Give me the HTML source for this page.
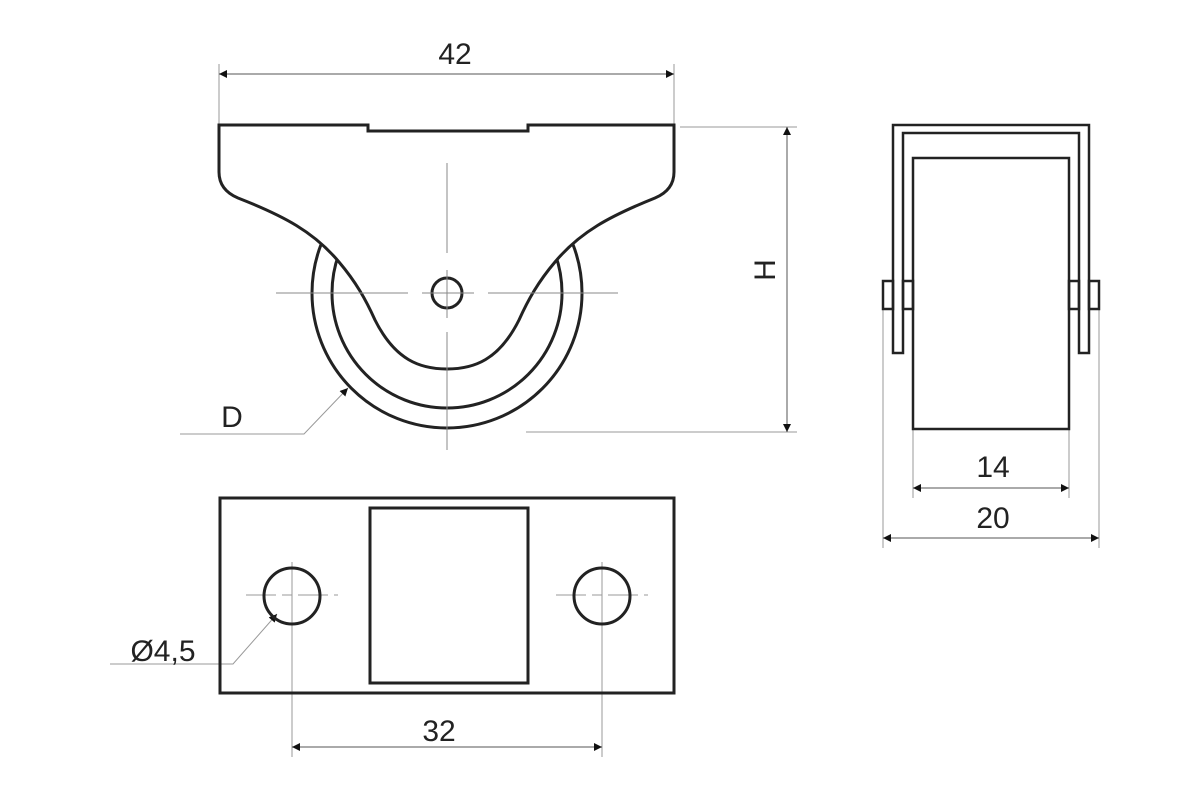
<!DOCTYPE html>
<html><head><meta charset="utf-8"><style>
html,body{margin:0;padding:0;background:#fff;}
svg{display:block;}
text{font-family:"Liberation Sans",sans-serif;fill:#222;}
</style></head><body>
<svg width="1200" height="800" viewBox="0 0 1200 800" xmlns="http://www.w3.org/2000/svg">
<defs>
<marker id="a" viewBox="0 0 10 10" refX="10" refY="5" markerWidth="16" markerHeight="8" markerUnits="userSpaceOnUse" orient="auto-start-reverse"><path d="M0,0 L10,5 L0,10 z" fill="#111"/></marker>
</defs>
<g stroke="#999" stroke-width="1" fill="none">
<line x1="219" y1="64" x2="219" y2="125"/><line x1="674" y1="64" x2="674" y2="125"/>
<line x1="219" y1="74" x2="674" y2="74" stroke="#555" marker-start="url(#a)" marker-end="url(#a)"/>
<line x1="680" y1="127" x2="797" y2="127"/><line x1="526" y1="432" x2="797" y2="432"/>
<line x1="787" y1="127" x2="787" y2="432" stroke="#555" marker-start="url(#a)" marker-end="url(#a)"/>
<polyline points="180,434 304,434 348,388" stroke="#999" marker-end="url(#a)"/>
<line x1="883" y1="309" x2="883" y2="548"/><line x1="1099" y1="309" x2="1099" y2="548"/>
<line x1="913" y1="429" x2="913" y2="498"/><line x1="1069" y1="429" x2="1069" y2="498"/>
<line x1="913" y1="488" x2="1069" y2="488" stroke="#555" marker-start="url(#a)" marker-end="url(#a)"/>
<line x1="883" y1="538" x2="1099" y2="538" stroke="#555" marker-start="url(#a)" marker-end="url(#a)"/>
<line x1="246" y1="595" x2="338" y2="595" stroke-dasharray="30,6,10,6"/>
<line x1="556" y1="595" x2="648" y2="595" stroke-dasharray="30,6,10,6"/>
<line x1="292" y1="562" x2="292" y2="757"/><line x1="602" y1="562" x2="602" y2="757"/>
<line x1="292" y1="747" x2="602" y2="747" stroke="#555" marker-start="url(#a)" marker-end="url(#a)"/>
<polyline points="110,664 233,664 277,614" marker-end="url(#a)"/>
</g>
<g stroke="#222" stroke-width="3" fill="none">
<circle cx="447" cy="293" r="135"/>
<circle cx="447" cy="293" r="115"/>
<path fill="#fff" d="M219,125 L368,125 L368,131 L528,131 L528,125 L674,125 L674,172 Q674,190 655,198 C610,216 580,232 555,262 C538,282 528,300 519,320 C499,360 474,369 447,369 C420,369 395,360 375,320 C366,300 356,282 339,262 C314,232 284,216 238,198 Q219,190 219,172 Z"/>
<circle cx="447" cy="293" r="15" fill="#fff"/>
</g>
<g stroke="#888" stroke-width="1" fill="none">
<line x1="447" y1="163" x2="447" y2="253"/>
<line x1="447" y1="270" x2="447" y2="318"/>
<line x1="447" y1="332" x2="447" y2="450"/>
<line x1="276" y1="293" x2="408" y2="293"/>
<line x1="422" y1="293" x2="474" y2="293"/>
<line x1="488" y1="293" x2="618" y2="293"/>
</g>
<g stroke="#222" stroke-width="2.5" fill="none">
<path d="M893,353 L893,125 L1089,125 L1089,353 L1079,353 L1079,133 L903,133 L903,353 Z"/>
<rect x="913" y="158" width="156" height="271"/>
<rect x="883" y="281" width="10" height="28"/>
<rect x="903" y="281" width="10" height="28"/>
<rect x="1069" y="281" width="10" height="28"/>
<rect x="1089" y="281" width="10" height="28"/>
</g>
<g stroke="#222" stroke-width="3" fill="none">
<rect x="220" y="498" width="454" height="195"/>
<rect x="370" y="508" width="158" height="175"/>
<circle cx="292" cy="596" r="28"/>
<circle cx="602" cy="596" r="28"/>
</g>
<g font-size="30">
<text x="455" y="64" text-anchor="middle">42</text>
<text x="232" y="427" text-anchor="middle">D</text>
<text x="0" y="0" text-anchor="middle" transform="translate(775,270) rotate(-90)">H</text>
<text x="993" y="477" text-anchor="middle">14</text>
<text x="993" y="528" text-anchor="middle">20</text>
<text x="439" y="741" text-anchor="middle">32</text>
<text x="163" y="661" text-anchor="middle">Ø4,5</text>
</g>
</svg>
</body></html>
